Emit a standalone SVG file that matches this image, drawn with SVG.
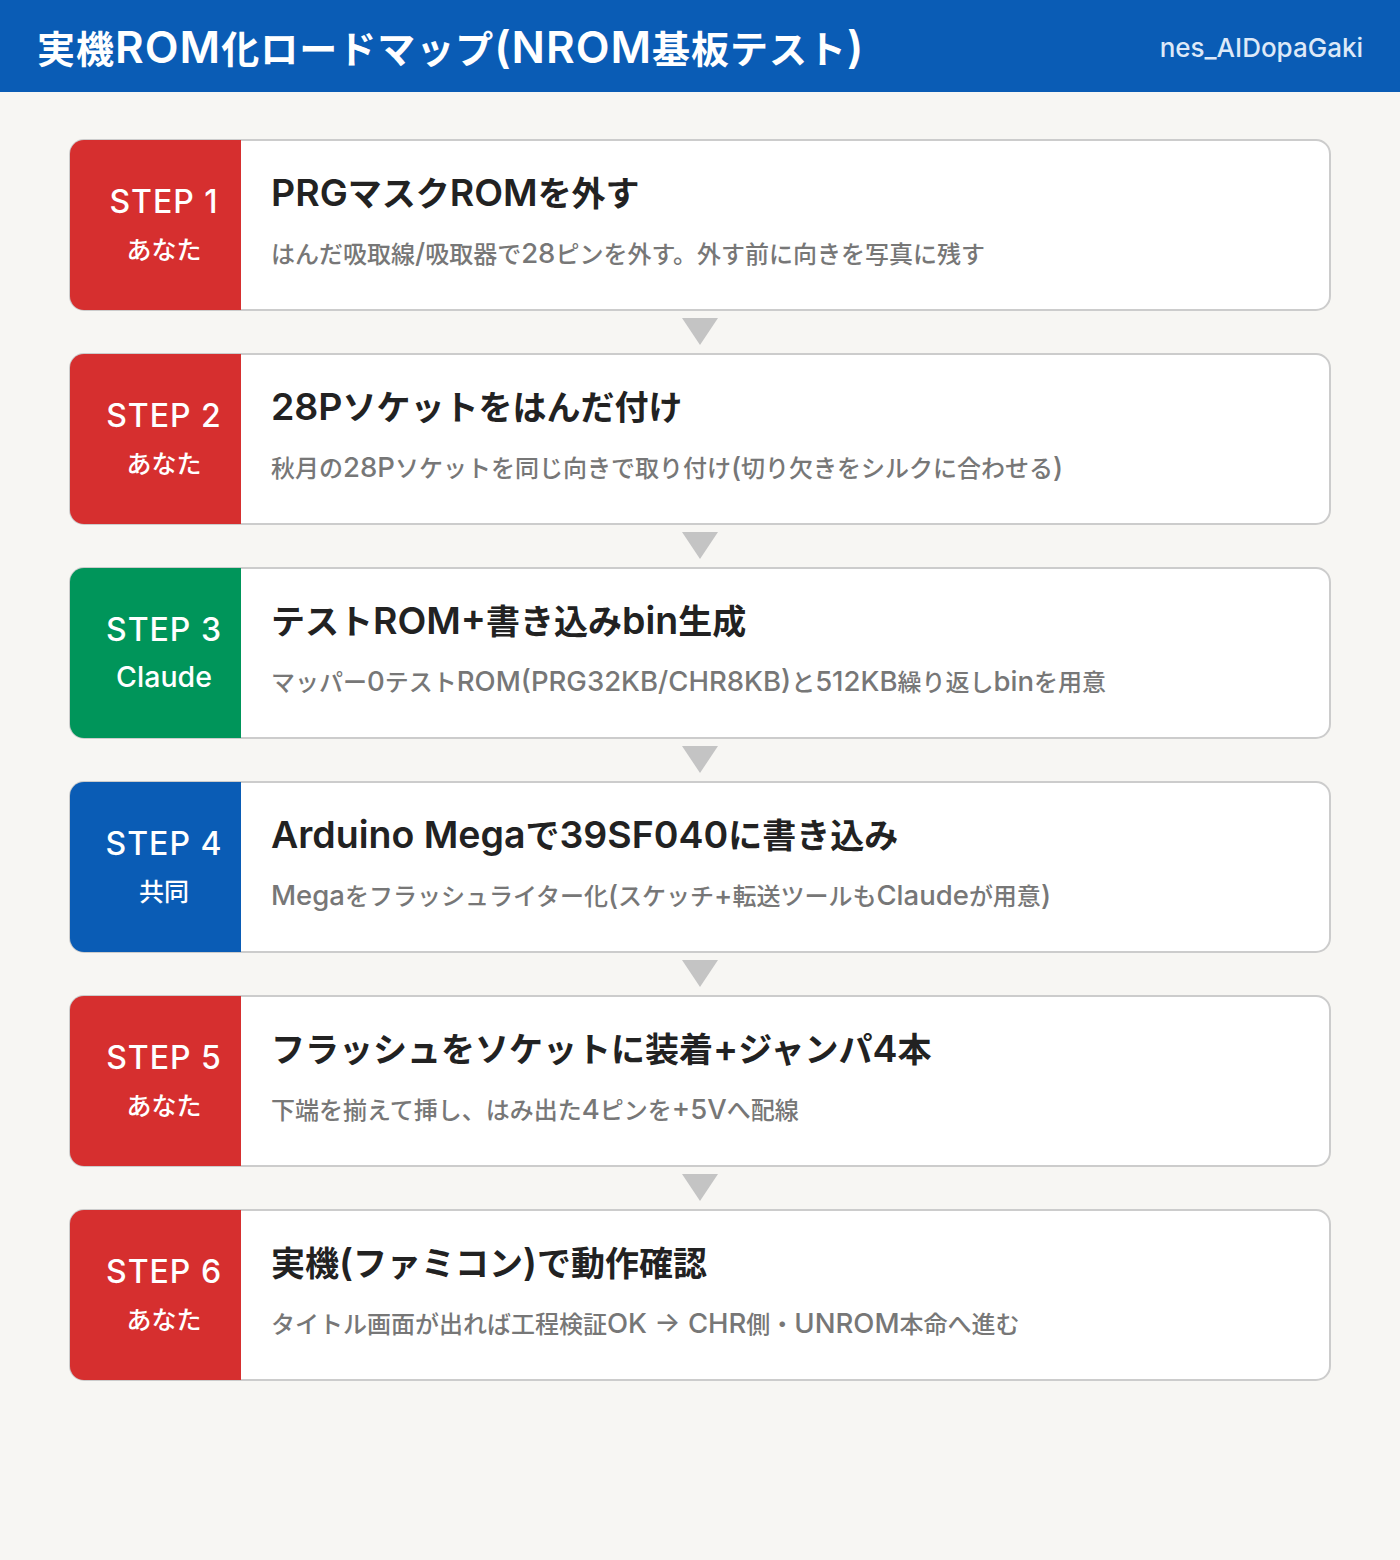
<svg xmlns="http://www.w3.org/2000/svg" width="1400" height="1560" viewBox="0 0 1400 1560">
<defs>
<style>
text{font-family:Inter,"Noto Sans CJK JP","Liberation Sans",sans-serif;}
.hd{fill:#ffffff;font-size:38px;font-weight:bold;letter-spacing:1px;}
.hd .L{font-size:44px;font-weight:600;}
.acct{fill:#dde9f8;font-size:26px;font-weight:500;}
.card{fill:#ffffff;stroke:#cccccc;stroke-width:2;}
.step{fill:#ffffff;font-size:32px;font-weight:500;text-anchor:middle;letter-spacing:1px;}
.who{fill:#ffffff;font-size:25px;font-weight:500;text-anchor:middle;}
.who .L{font-size:28.5px;}
.ttl{fill:#222222;font-size:34px;font-weight:600;}
.ttl .L{font-size:37.5px;}
.sub{fill:#777777;font-size:24px;font-weight:500;}
.sub .L{font-size:27.5px;}
.arr{fill:#c4c4c4;}
</style>
</defs>
<rect x="0" y="0" width="1400" height="1560" fill="#f7f6f3"/>
<g id="header">
<rect x="0" y="0" width="1400" height="92" fill="#0a5cb5"/>
<text class="hd" x="37" y="63">実機<tspan class="L">ROM</tspan>化ロードマップ<tspan class="L">(NROM</tspan>基板テスト<tspan class="L">)</tspan></text>
<text class="acct" x="1363" y="57" text-anchor="end">nes_AIDopaGaki</text>
</g>
<g id="connectors">
<polygon class="arr" points="682,318 718,318 700,345"/>
<polygon class="arr" points="682,532 718,532 700,559"/>
<polygon class="arr" points="682,746 718,746 700,773"/>
<polygon class="arr" points="682,960 718,960 700,987"/>
<polygon class="arr" points="682,1174 718,1174 700,1201"/>
</g>
<g id="step1" transform="translate(0,140)">
<rect class="card" x="70" y="0" width="1260" height="170" rx="14"/>
<path d="M84,0 H241 V170 H84 A14,14 0 0 1 70,156 V14 A14,14 0 0 1 84,0 Z" fill="#d62f2f"/>
<text class="step" x="164" y="73">STEP 1</text>
<text class="who" x="164" y="119">あなた</text>
<text class="ttl" x="271" y="66"><tspan class="L">PRG</tspan>マスク<tspan class="L">ROM</tspan>を外す</text>
<text class="sub" x="271" y="123">はんだ吸取線<tspan class="L">/</tspan>吸取器で<tspan class="L">28</tspan>ピンを外す。外す前に向きを写真に残す</text>
</g>
<g id="step2" transform="translate(0,354)">
<rect class="card" x="70" y="0" width="1260" height="170" rx="14"/>
<path d="M84,0 H241 V170 H84 A14,14 0 0 1 70,156 V14 A14,14 0 0 1 84,0 Z" fill="#d62f2f"/>
<text class="step" x="164" y="73">STEP 2</text>
<text class="who" x="164" y="119">あなた</text>
<text class="ttl" x="271" y="66"><tspan class="L">28P</tspan>ソケットをはんだ付け</text>
<text class="sub" x="271" y="123">秋月の<tspan class="L">28P</tspan>ソケットを同じ向きで取り付け<tspan class="L">(</tspan>切り欠きをシルクに合わせる<tspan class="L">)</tspan></text>
</g>
<g id="step3" transform="translate(0,568)">
<rect class="card" x="70" y="0" width="1260" height="170" rx="14"/>
<path d="M84,0 H241 V170 H84 A14,14 0 0 1 70,156 V14 A14,14 0 0 1 84,0 Z" fill="#00955a"/>
<text class="step" x="164" y="73">STEP 3</text>
<text class="who" x="164" y="119"><tspan class="L">Claude</tspan></text>
<text class="ttl" x="271" y="66">テスト<tspan class="L">ROM+</tspan>書き込み<tspan class="L">bin</tspan>生成</text>
<text class="sub" x="271" y="123">マッパー<tspan class="L">0</tspan>テスト<tspan class="L">ROM(PRG32KB/CHR8KB)</tspan>と<tspan class="L">512KB</tspan>繰り返し<tspan class="L">bin</tspan>を用意</text>
</g>
<g id="step4" transform="translate(0,782)">
<rect class="card" x="70" y="0" width="1260" height="170" rx="14"/>
<path d="M84,0 H241 V170 H84 A14,14 0 0 1 70,156 V14 A14,14 0 0 1 84,0 Z" fill="#0a5cb5"/>
<text class="step" x="164" y="73">STEP 4</text>
<text class="who" x="164" y="119">共同</text>
<text class="ttl" x="271" y="66"><tspan class="L">Arduino Mega</tspan>で<tspan class="L">39SF040</tspan>に書き込み</text>
<text class="sub" x="271" y="123"><tspan class="L">Mega</tspan>をフラッシュライター化<tspan class="L">(</tspan>スケッチ<tspan class="L">+</tspan>転送ツールも<tspan class="L">Claude</tspan>が用意<tspan class="L">)</tspan></text>
</g>
<g id="step5" transform="translate(0,996)">
<rect class="card" x="70" y="0" width="1260" height="170" rx="14"/>
<path d="M84,0 H241 V170 H84 A14,14 0 0 1 70,156 V14 A14,14 0 0 1 84,0 Z" fill="#d62f2f"/>
<text class="step" x="164" y="73">STEP 5</text>
<text class="who" x="164" y="119">あなた</text>
<text class="ttl" x="271" y="66">フラッシュをソケットに装着<tspan class="L">+</tspan>ジャンパ<tspan class="L">4</tspan>本</text>
<text class="sub" x="271" y="123">下端を揃えて挿し、はみ出た<tspan class="L">4</tspan>ピンを<tspan class="L">+5V</tspan>へ配線</text>
</g>
<g id="step6" transform="translate(0,1210)">
<rect class="card" x="70" y="0" width="1260" height="170" rx="14"/>
<path d="M84,0 H241 V170 H84 A14,14 0 0 1 70,156 V14 A14,14 0 0 1 84,0 Z" fill="#d62f2f"/>
<text class="step" x="164" y="73">STEP 6</text>
<text class="who" x="164" y="119">あなた</text>
<text class="ttl" x="271" y="66">実機<tspan class="L">(</tspan>ファミコン<tspan class="L">)</tspan>で動作確認</text>
<text class="sub" x="271" y="123">タイトル画面が出れば工程検証<tspan class="L">OK → CHR</tspan>側・<tspan class="L">UNROM</tspan>本命へ進む</text>
</g>
</svg>
